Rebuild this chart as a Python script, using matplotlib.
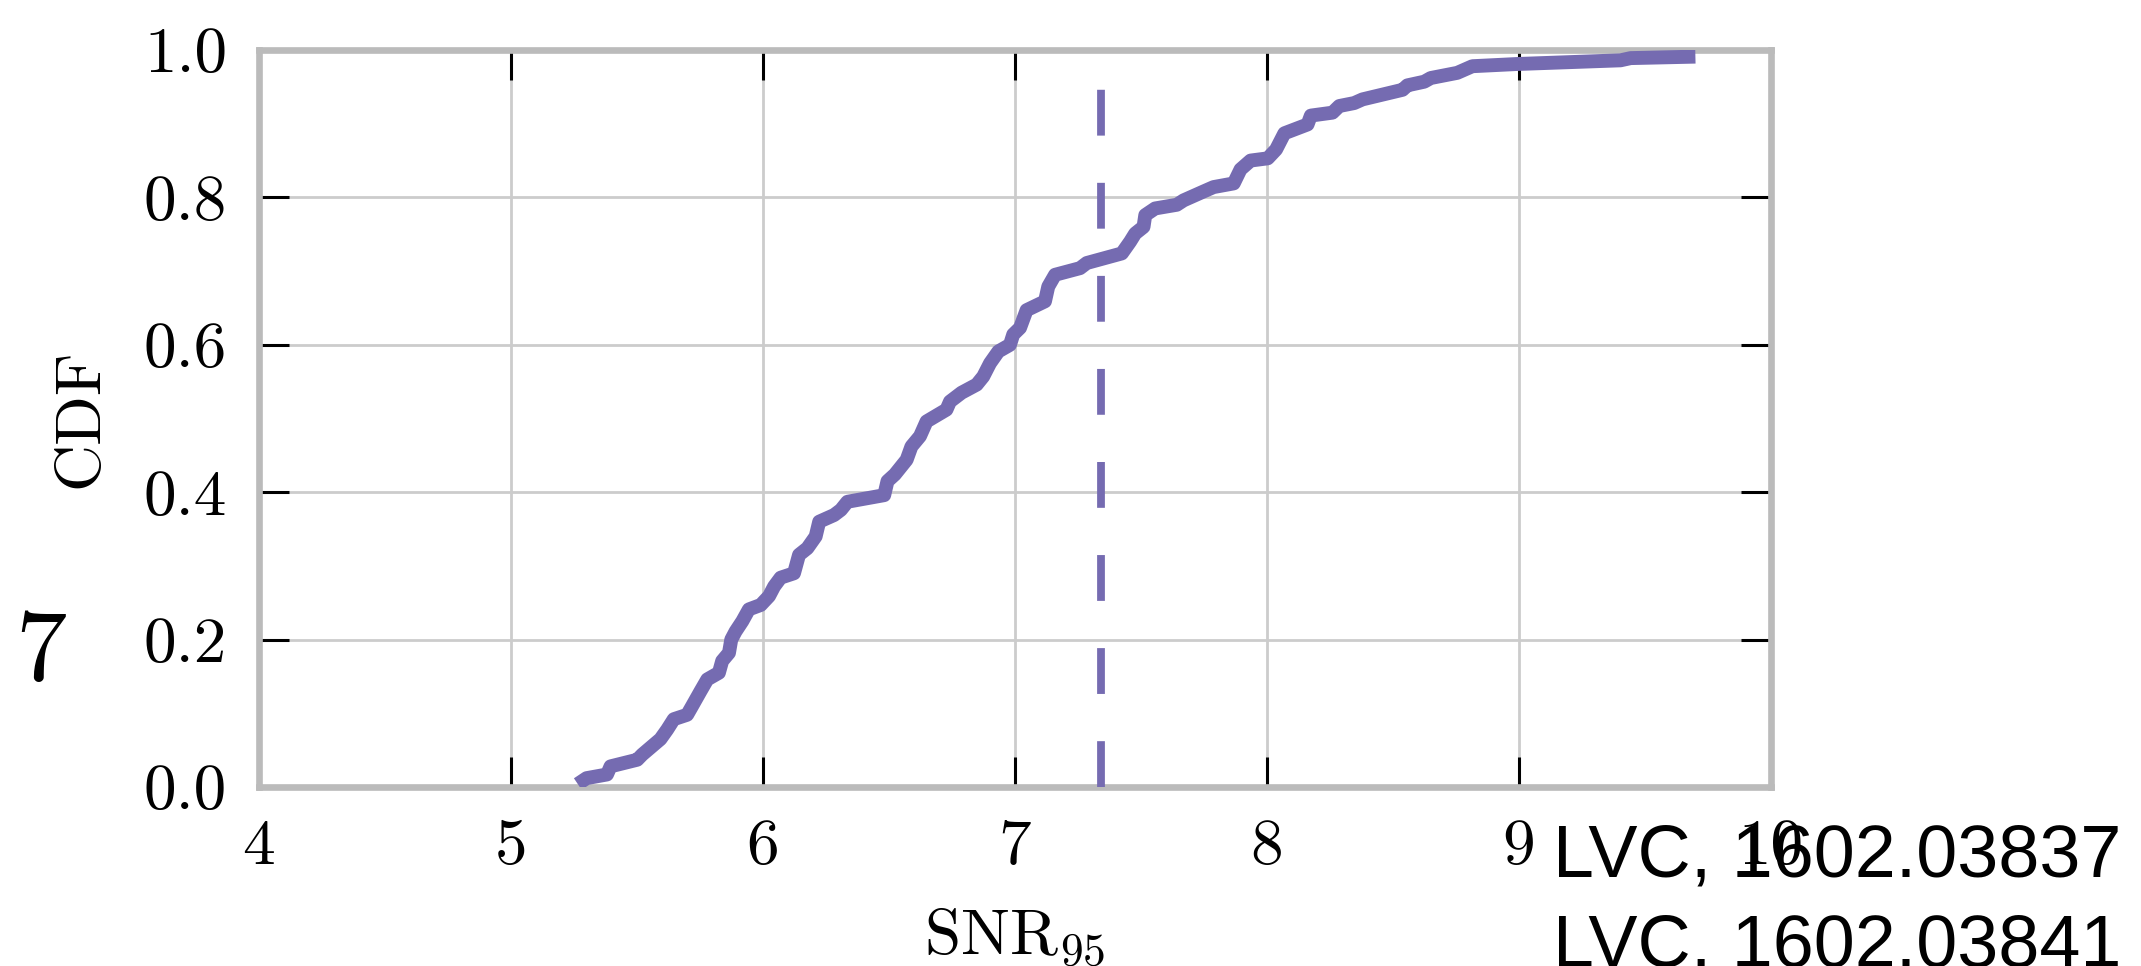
import matplotlib
matplotlib.use("Agg")
import matplotlib.pyplot as plt

# ---- data ----
snr_values = [5.265, 5.30, 5.381, 5.395, 5.501, 5.521, 5.593, 5.620, 5.646, 5.699,
              5.719, 5.752, 5.779, 5.825, 5.838, 5.865, 5.874, 5.891, 5.918, 5.944,
              5.991, 6.024, 6.044, 6.070, 6.123, 6.143, 6.176, 6.209, 6.223, 6.282,
              6.309, 6.335, 6.481, 6.494, 6.523, 6.570, 6.589, 6.623, 6.649, 6.728,
              6.742, 6.788, 6.848, 6.874, 6.901, 6.934, 6.980, 6.993, 7.020, 7.046,
              7.119, 7.132, 7.159, 7.258, 7.285, 7.424, 7.457, 7.477, 7.510, 7.517,
              7.556, 7.642, 7.669, 7.748, 7.788, 7.868, 7.895, 7.935, 8.003, 8.036,
              8.069, 8.161, 8.174, 8.260, 8.287, 8.346, 8.379, 8.538, 8.557, 8.624,
              8.650, 8.755, 8.815, 8.993, 9.403, 9.443, 9.700]
cdf_values = [0.004, 0.012, 0.017, 0.028, 0.037, 0.044, 0.065, 0.078, 0.092, 0.098,
              0.110, 0.130, 0.146, 0.155, 0.171, 0.182, 0.200, 0.211, 0.225, 0.241,
              0.247, 0.259, 0.272, 0.284, 0.290, 0.315, 0.324, 0.340, 0.360, 0.369,
              0.376, 0.387, 0.396, 0.415, 0.424, 0.444, 0.462, 0.476, 0.496, 0.512,
              0.523, 0.535, 0.546, 0.557, 0.575, 0.591, 0.600, 0.614, 0.623, 0.647,
              0.659, 0.679, 0.695, 0.704, 0.711, 0.724, 0.740, 0.751, 0.760, 0.776,
              0.785, 0.790, 0.796, 0.808, 0.814, 0.819, 0.838, 0.850, 0.853, 0.865,
              0.887, 0.899, 0.911, 0.915, 0.924, 0.928, 0.933, 0.946, 0.952, 0.957,
              0.962, 0.969, 0.978, 0.981, 0.986, 0.989, 0.991]
threshold_snr = 7.34

x_ticks = [4, 5, 6, 7, 8, 9, 10]
x_ticklabels = ["4", "5", "6", "7", "8", "9", "10"]
y_ticks = [0.0, 0.2, 0.4, 0.6, 0.8, 1.0]
y_ticklabels = ["0.0", "0.2", "0.4", "0.6", "0.8", "1.0"]

xlabel_text = r"$\mathrm{SNR}_{95}$"
ylabel_text = "CDF"
panel_label = "7"
ref_lines = ["LVC, 1602.03837", "LVC, 1602.03841"]

# ---- style ----
plt.rcParams["font.family"] = ["cmr10", "DejaVu Serif"]
plt.rcParams["mathtext.fontset"] = "cm"
plt.rcParams["axes.formatter.use_mathtext"] = True
plt.rcParams["lines.scale_dashes"] = False

W, H, DPI = 2141, 966, 200
fig = plt.figure(figsize=(W / DPI, H / DPI), dpi=DPI)
fig.patch.set_facecolor("white")

left, right, top, bottom = 259, 1771, 50, 787
ax = fig.add_axes([left / W, 1 - bottom / H, (right - left) / W, (bottom - top) / H])

purple = "#756bb1"
ax.plot(snr_values, cdf_values, color=purple, lw=5.0, solid_joinstyle="round",
        solid_capstyle="butt", zorder=3)
ax.axvline(threshold_snr, color=purple, lw=2.8, linestyle=(0, (16.5, 17.0)), zorder=3)

ax.set_xlim(4, 10)
ax.set_ylim(0, 1)
ax.set_xticks(x_ticks)
ax.set_xticklabels(x_ticklabels)
ax.set_yticks(y_ticks)
ax.set_yticklabels(y_ticklabels)

ax.grid(True, color="#cccccc", lw=1.0, zorder=0)
ax.set_axisbelow(True)
for sp in ax.spines.values():
    sp.set_color("#bbbbbb")
    sp.set_linewidth(2.4)

ax.tick_params(axis="both", which="major", direction="in", length=10.8, width=1.1,
               color="black", labelsize=23.5, pad=11.5, top=True, right=True,
               labelcolor="black")

ax.set_xlabel(xlabel_text, fontsize=23.5)
ax.set_ylabel(ylabel_text, fontsize=23.5)
ax.xaxis.set_label_coords(0.5, (bottom - 906) / (bottom - top))
ax.yaxis.set_label_coords((110 - left) / (right - left), 0.5)

fig.text(41 / W, 1 - 680 / H, panel_label, fontsize=37, ha="center", va="baseline")

fig.text(1553 / W, 1 - 877 / H, ref_lines[0], fontsize=26.5,
         family=["Liberation Sans", "DejaVu Sans"], ha="left", va="baseline")
fig.text(1553 / W, 1 - 967 / H, ref_lines[1], fontsize=26.5,
         family=["Liberation Sans", "DejaVu Sans"], ha="left", va="baseline")

fig.savefig("out.png", dpi=DPI, facecolor="white")
